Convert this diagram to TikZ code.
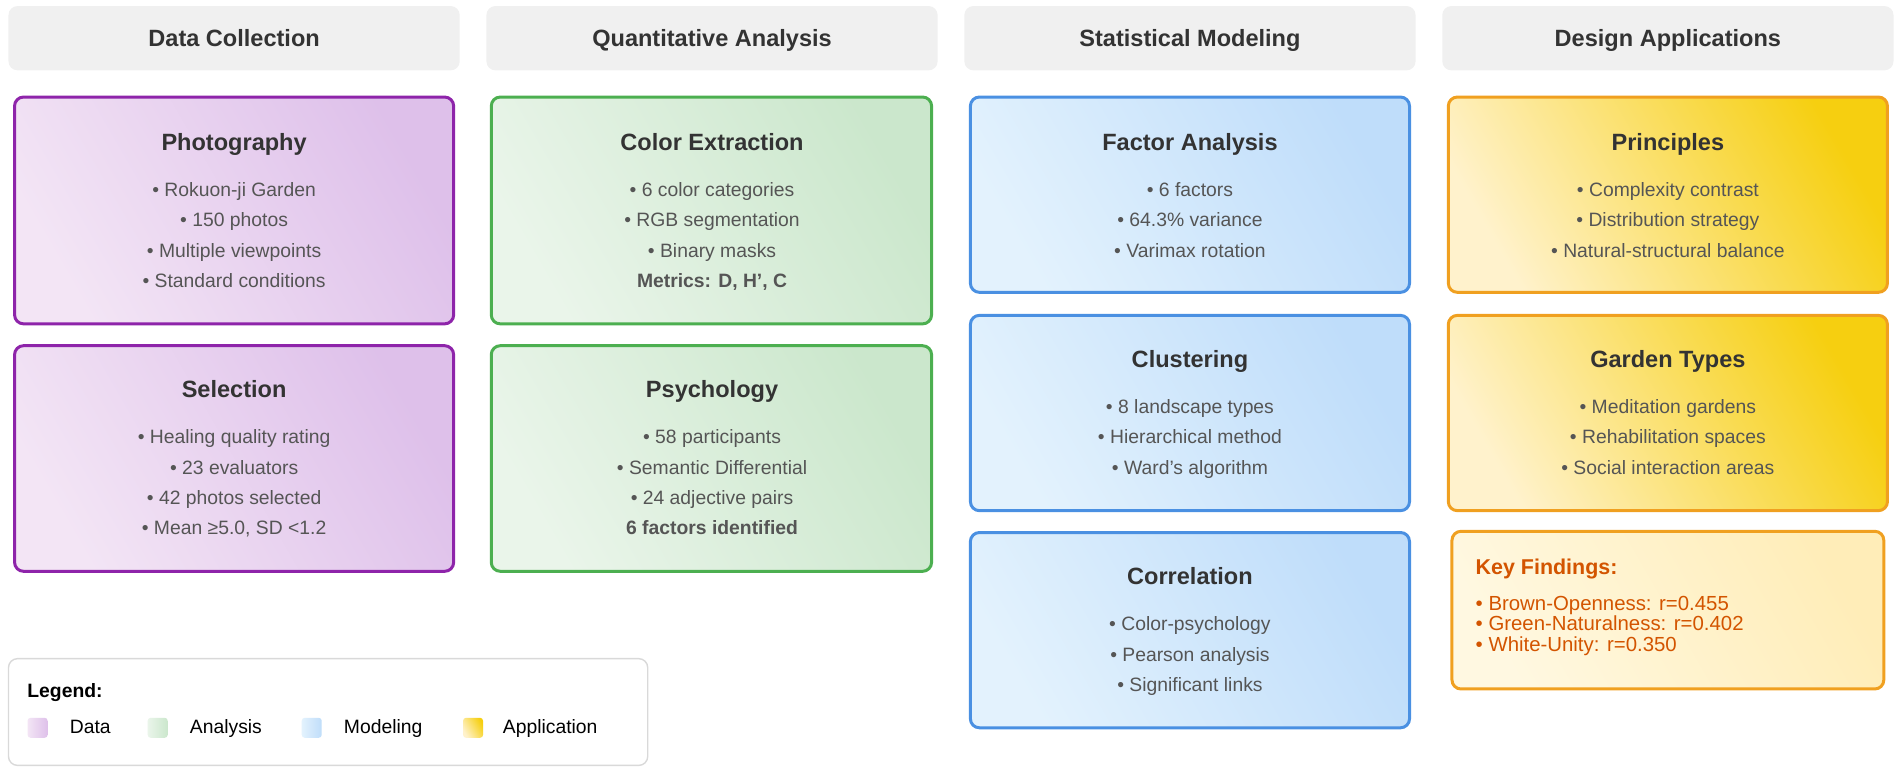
\documentclass[tikz,border=0pt]{standalone}
\usepackage{fontspec}
\setmainfont{Liberation Sans}
\usetikzlibrary{fit}
\definecolor{hdr}{HTML}{F0F0F0}
\definecolor{pB}{HTML}{8E24AA}\definecolor{pL}{HTML}{F3E5F5}\definecolor{pD}{HTML}{DEC0EA}
\definecolor{gB}{HTML}{4CAF50}\definecolor{gL}{HTML}{EAF5EA}\definecolor{gD}{HTML}{CBE7CC}
\definecolor{bB}{HTML}{4A90E2}\definecolor{bL}{HTML}{E3F2FD}\definecolor{bD}{HTML}{BFDDFA}
\definecolor{oB}{HTML}{F0A020}\definecolor{oL}{HTML}{FFF2CC}\definecolor{oD}{HTML}{F6CF10}
\definecolor{kL}{HTML}{FFF8E1}\definecolor{kD}{HTML}{FFEDB8}\definecolor{kT}{HTML}{D35400}
\definecolor{tt}{HTML}{333333}\definecolor{tx}{HTML}{555555}
\tikzset{
 boxbase/.style={inner sep=0pt, rounded corners=0.09cm, line width=0.85pt},
 hdrbox/.style={boxbase, fill=hdr, draw=none},
 pbox/.style={boxbase, draw=pB, left color=pL, right color=pD, shading angle=120},
 gbox/.style={boxbase, draw=gB, left color=gL, right color=gD, shading angle=120},
 bbox/.style={boxbase, draw=bB, left color=bL, right color=bD, shading angle=120},
 obox/.style={boxbase, draw=oB, left color=oL, right color=oD, shading angle=120},
 kbox/.style={boxbase, draw=oB, left color=kL, right color=kD, shading angle=120},
 lgbox/.style={boxbase, draw=black!15, fill=white, line width=0.4pt},
 hdrtxt/.style={font=\fontsize{6.7}{8}\selectfont\bfseries, text=tt},
 ttl/.style={anchor=base, font=\fontsize{6.7}{8}\selectfont\bfseries, text=tt},
 itm/.style={anchor=base, font=\fontsize{5.5}{7}\selectfont, text=tx},
 itmb/.style={itm, font=\fontsize{5.5}{7}\selectfont\bfseries},
 ktxt/.style={font=\fontsize{5.8}{7}\selectfont, text=kT, anchor=base west, inner xsep=0pt},
 lgtxt/.style={font=\fontsize{5.5}{7}\selectfont, text=black, anchor=base west, inner xsep=0pt},
 sw/.style={inner sep=0pt, minimum size=0.2cm, rounded corners=0.03cm},
}
\begin{document}
\begin{tikzpicture}[x=0.01213cm,y=-0.01213cm]
\useasboundingbox (0,0) rectangle (1568,637);
\foreach \i/\xa/\t in {1/7/Data Collection,2/401/Quantitative Analysis,3/795/Statistical Modeling,4/1189/Design Applications}{
  \node[hdrbox, fit={(\xa,5)(\xa+372,58)}] (h\i) {};
  \node[hdrtxt, anchor=base] (ht\i) at (\xa+186,38) {\t};
}
% column 1
\node[pbox, fit={(12,80)(374,267)}] (photo) {};
\node[ttl] at (193,124) {Photography};
\node[itm] at (193,162) {• Rokuon-ji Garden};
\node[itm] at (193,187) {• 150 photos};
\node[itm] at (193,212) {• Multiple viewpoints};
\node[itm] at (193,237) {• Standard conditions};
\node[pbox, fit={(12,285)(374,471)}] (sel) {};
\node[ttl] at (193,328) {Selection};
\node[itm] at (193,366) {• Healing quality rating};
\node[itm] at (193,391) {• 23 evaluators};
\node[itm] at (193,416) {• 42 photos selected};
\node[itm] at (193,441) {• Mean ≥5.0, SD <1.2};
% column 2
\node[gbox, fit={(405,80)(768,267)}] (color) {};
\node[ttl] at (587,124) {Color Extraction};
\node[itm] at (587,162) {• 6 color categories};
\node[itm] at (587,187) {• RGB segmentation};
\node[itm] at (587,212) {• Binary masks};
\node[itmb] at (587,237) {Metrics: D, H', C};
\node[gbox, fit={(405,285)(768,471)}] (psy) {};
\node[ttl] at (587,328) {Psychology};
\node[itm] at (587,366) {• 58 participants};
\node[itm] at (587,391) {• Semantic Differential};
\node[itm] at (587,416) {• 24 adjective pairs};
\node[itmb] at (587,441) {6 factors identified};
% column 3
\node[bbox, fit={(800,80)(1162,241)}] (fac) {};
\node[ttl] at (981,124) {Factor Analysis};
\node[itm] at (981,162) {• 6 factors};
\node[itm] at (981,187) {• 64.3\% variance};
\node[itm] at (981,212) {• Varimax rotation};
\node[bbox, fit={(800,260)(1162,421)}] (clu) {};
\node[ttl] at (981,303) {Clustering};
\node[itm] at (981,341) {• 8 landscape types};
\node[itm] at (981,366) {• Hierarchical method};
\node[itm] at (981,391) {• Ward's algorithm};
\node[bbox, fit={(800,439)(1162,600)}] (cor) {};
\node[ttl] at (981,482) {Correlation};
\node[itm] at (981,520) {• Color-psychology};
\node[itm] at (981,545) {• Pearson analysis};
\node[itm] at (981,570) {• Significant links};
% column 4
\node[obox, fit={(1194,80)(1556,241)}] (pri) {};
\node[ttl] at (1375,124) {Principles};
\node[itm] at (1375,162) {• Complexity contrast};
\node[itm] at (1375,187) {• Distribution strategy};
\node[itm] at (1375,212) {• Natural-structural balance};
\node[obox, fit={(1194,260)(1556,421)}] (gar) {};
\node[ttl] at (1375,303) {Garden Types};
\node[itm] at (1375,341) {• Meditation gardens};
\node[itm] at (1375,366) {• Rehabilitation spaces};
\node[itm] at (1375,391) {• Social interaction areas};
\node[kbox, fit={(1197,438)(1553,568)}] (key) {};
\node[ktxt, font=\fontsize{6.1}{7}\selectfont\bfseries] at (1216,474) {Key Findings:};
\node[ktxt] at (1216,503) {• Brown-Openness: r=0.455};
\node[ktxt] at (1216,520) {• Green-Naturalness: r=0.402};
\node[ktxt] at (1216,537) {• White-Unity: r=0.350};
% legend
\node[lgbox, fit={(7,543)(534,631)}] (leg) {};
\node[lgtxt, font=\fontsize{5.5}{7}\selectfont\bfseries] at (22,575) {Legend:};
\node[sw, left color=pL, right color=pD] (s1) at (31,600) {};
\node[lgtxt] at (57,605) {Data};
\node[sw, left color=gL, right color=gD] (s2) at (130,600) {};
\node[lgtxt] at (156,605) {Analysis};
\node[sw, left color=bL, right color=bD] (s3) at (257,600) {};
\node[lgtxt] at (283,605) {Modeling};
\node[sw, left color=oL, right color=oD, shading angle=120] (s4) at (390,600) {};
\node[lgtxt] at (414,605) {Application};
\end{tikzpicture}
\end{document}
